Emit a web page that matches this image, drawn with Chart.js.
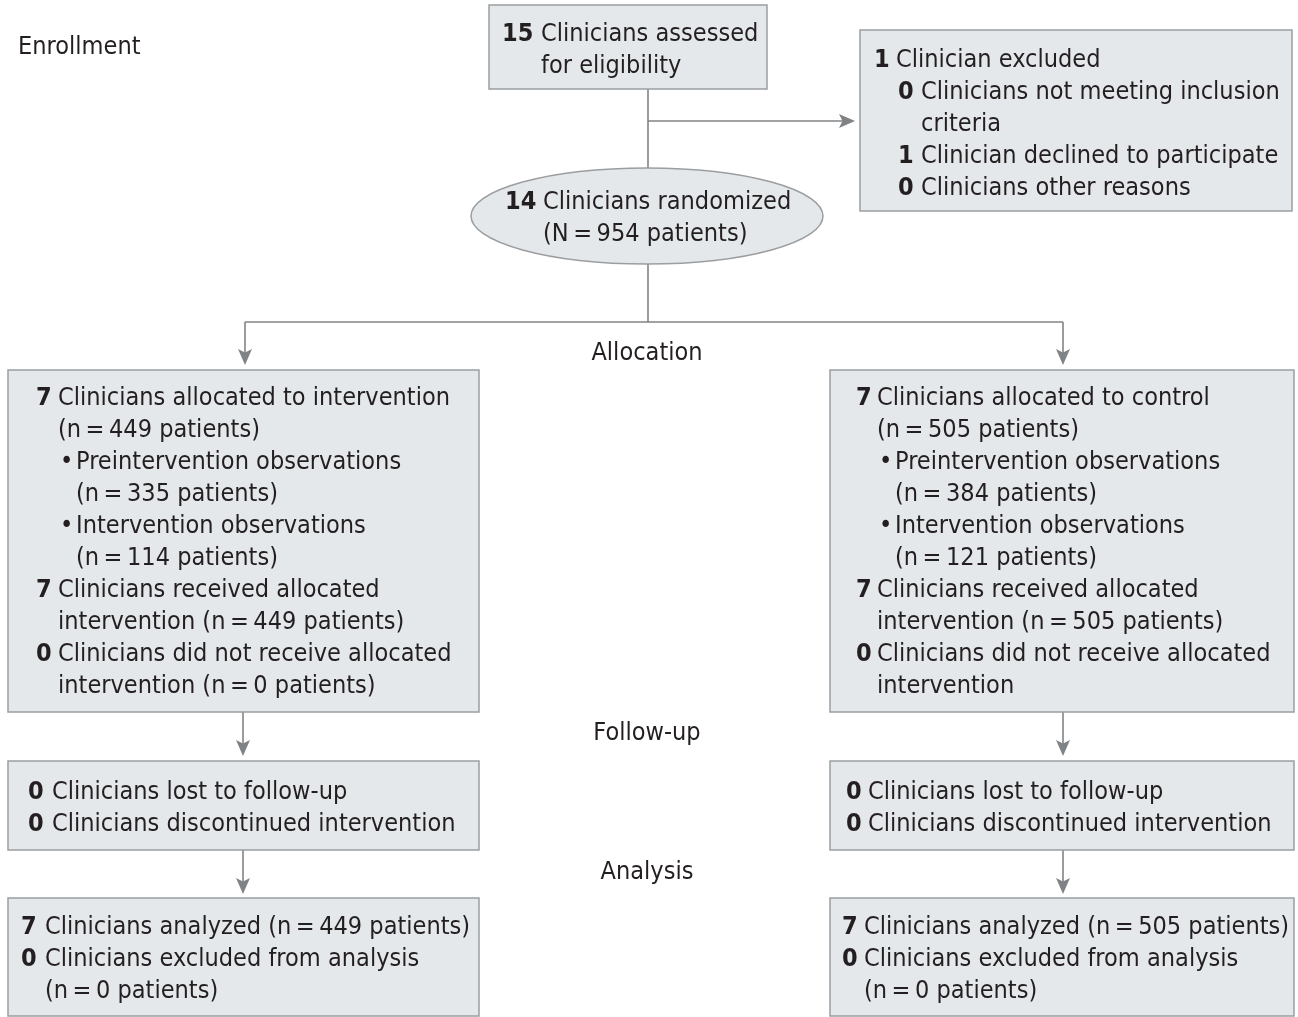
<!DOCTYPE html>
<html>
<head>
<meta charset="utf-8">
<script src="https://cdn.jsdelivr.net/npm/chart.js@4.4.1/dist/chart.umd.min.js"></script>
<style>
  body { margin: 0; background: #fff; }
  #wrap { width: 1298px; height: 1017px; }
</style>
</head>
<body>
<div id="wrap"><canvas id="myChart" width="1298" height="1017"></canvas></div>
<script>

// stage names down the middle of the flow
var stageLabels = ['Enrollment', 'Allocation', 'Follow-up', 'Analysis'];

// each line: [count, text, level]  (level 1 = indented sub item, '•' = bullet)
var enrollLines = [
  ['15', 'Clinicians assessed', 0],
  ['', 'for eligibility', 0]
];
var excludedLines = [
  ['1', 'Clinician excluded', 0],
  ['0', 'Clinicians not meeting inclusion', 1],
  ['', 'criteria', 1],
  ['1', 'Clinician declined to participate', 1],
  ['0', 'Clinicians other reasons', 1]
];
var randomizedLines = [
  ['14', 'Clinicians randomized', 0],
  ['', '(N\u2009=\u2009954 patients)', 0]
];
var interventionLines = [
  ['7', 'Clinicians allocated to intervention', 0],
  ['', '(n\u2009=\u2009449 patients)', 0],
  ['•', 'Preintervention observations', 1],
  ['', '(n\u2009=\u2009335 patients)', 1],
  ['•', 'Intervention observations', 1],
  ['', '(n\u2009=\u2009114 patients)', 1],
  ['7', 'Clinicians received allocated', 0],
  ['', 'intervention (n\u2009=\u2009449 patients)', 0],
  ['0', 'Clinicians did not receive allocated', 0],
  ['', 'intervention (n\u2009=\u20090 patients)', 0]
];
var controlLines = [
  ['7', 'Clinicians allocated to control', 0],
  ['', '(n\u2009=\u2009505 patients)', 0],
  ['•', 'Preintervention observations', 1],
  ['', '(n\u2009=\u2009384 patients)', 1],
  ['•', 'Intervention observations', 1],
  ['', '(n\u2009=\u2009121 patients)', 1],
  ['7', 'Clinicians received allocated', 0],
  ['', 'intervention (n\u2009=\u2009505 patients)', 0],
  ['0', 'Clinicians did not receive allocated', 0],
  ['', 'intervention', 0]
];
var followLeftLines = [
  ['0', 'Clinicians lost to follow-up', 0],
  ['0', 'Clinicians discontinued intervention', 0]
];
var followRightLines = [
  ['0', 'Clinicians lost to follow-up', 0],
  ['0', 'Clinicians discontinued intervention', 0]
];
var analysisLeftLines = [
  ['7', 'Clinicians analyzed (n\u2009=\u2009449 patients)', 0],
  ['0', 'Clinicians excluded from analysis', 0],
  ['', '(n\u2009=\u20090 patients)', 0]
];
var analysisRightLines = [
  ['7', 'Clinicians analyzed (n\u2009=\u2009505 patients)', 0],
  ['0', 'Clinicians excluded from analysis', 0],
  ['', '(n\u2009=\u20090 patients)', 0]
];

// placement of the boxes, in axis units
var boxes = [
  { lines: enrollLines, x0: 489, y0: 5, x1: 767, y1: 89, numX: 502, textX: 541, top: 32 },
  { lines: excludedLines, x0: 860, y0: 30, x1: 1292, y1: 211, numX: 874, textX: 896, subNum: 898, subText: 921, top: 58 },
  { lines: randomizedLines, ellipse: true, cx: 647, cy: 216, rx: 176, ry: 48, numX: 505, textX: 543, top: 200 },
  { lines: interventionLines, x0: 8, y0: 370, x1: 479, y1: 712, numX: 36, textX: 58, subNum: 60, subText: 76, top: 396 },
  { lines: controlLines, x0: 830, y0: 370, x1: 1294, y1: 712, numX: 856, textX: 877, subNum: 879, subText: 895, top: 396 },
  { lines: followLeftLines, x0: 8, y0: 761, x1: 479, y1: 850, numX: 28, textX: 52, top: 790 },
  { lines: followRightLines, x0: 830, y0: 761, x1: 1294, y1: 850, numX: 846, textX: 868, top: 790 },
  { lines: analysisLeftLines, x0: 8, y0: 898, x1: 479, y1: 1016, numX: 21, textX: 45, top: 925 },
  { lines: analysisRightLines, x0: 830, y0: 898, x1: 1294, y1: 1016, numX: 842, textX: 864, top: 925 }
];

// connector paths, last point gets an arrow head when arrow is true
var connectors = [
  { pts: [[648, 89], [648, 168]], arrow: false },
  { pts: [[648, 121], [855, 121]], arrow: true },
  { pts: [[648, 264], [648, 322]], arrow: false },
  { pts: [[245, 322], [1063, 322]], arrow: false },
  { pts: [[245, 322], [245, 365]], arrow: true },
  { pts: [[1063, 322], [1063, 365]], arrow: true },
  { pts: [[243, 712], [243, 756]], arrow: true },
  { pts: [[1063, 712], [1063, 756]], arrow: true },
  { pts: [[243, 850], [243, 894]], arrow: true },
  { pts: [[1063, 850], [1063, 894]], arrow: true }
];

var stagePos = [[18, 45, 'left'], [647, 351, 'center'], [647, 731, 'center'], [647, 870, 'center']];

var FONT = '"Liberation Sans Narrow", "DejaVu Sans Condensed", "Open Sans", sans-serif';
var FONT_SIZE = 25;
var LINE_H = 32;
var TEXT_COLOR = '#231f20';
var BOX_FILL = '#e5e8eb';
var BOX_EDGE = '#9b9ea1';
var LINE_COLOR = '#808386';

var flowPlugin = {
  id: 'flow',
  afterDraw: function(chart) {
    var ctx = chart.ctx;
    var xs = chart.scales.x;
    var ys = chart.scales.y;
    function px(v) { return xs.getPixelForValue(v); }
    function py(v) { return ys.getPixelForValue(v); }

    // horizontal squeeze so the installed font matches the narrow original
    ctx.font = FONT_SIZE + 'px ' + FONT;
    var sq = 392 / ctx.measureText('Clinicians allocated to intervention').width;

    function text(str, x, y, bold, align) {
      ctx.save();
      ctx.font = (bold ? 'bold ' : '') + FONT_SIZE + 'px ' + FONT;
      ctx.fillStyle = TEXT_COLOR;
      ctx.textBaseline = 'alphabetic';
      var w = ctx.measureText(str).width * sq;
      var left = x;
      if (align === 'center') left = x - w / 2;
      ctx.translate(left, y + 9);
      ctx.scale(sq, 1);
      ctx.fillText(str, 0, 0);
      ctx.restore();
    }

    // connectors
    ctx.save();
    ctx.strokeStyle = LINE_COLOR;
    ctx.fillStyle = LINE_COLOR;
    ctx.lineWidth = 1.6;
    connectors.forEach(function(c) {
      var p = c.pts.map(function(q) { return [px(q[0]), py(q[1])]; });
      var a = p[p.length - 2], b = p[p.length - 1];
      var dx = Math.cos(Math.atan2(b[1] - a[1], b[0] - a[0]));
      var dy = Math.sin(Math.atan2(b[1] - a[1], b[0] - a[0]));
      var end = c.arrow ? [b[0] - dx * 10, b[1] - dy * 10] : b;
      ctx.beginPath();
      ctx.moveTo(p[0][0], p[0][1]);
      for (var i = 1; i < p.length - 1; i++) ctx.lineTo(p[i][0], p[i][1]);
      ctx.lineTo(end[0], end[1]);
      ctx.stroke();
      if (c.arrow) {
        // notched head
        ctx.beginPath();
        ctx.moveTo(b[0], b[1]);
        ctx.lineTo(b[0] - dx * 16 - dy * 7, b[1] - dy * 16 + dx * 7);
        ctx.lineTo(b[0] - dx * 12.5, b[1] - dy * 12.5);
        ctx.lineTo(b[0] - dx * 16 + dy * 7, b[1] - dy * 16 - dx * 7);
        ctx.closePath();
        ctx.fill();
      }
    });
    ctx.restore();

    // boxes
    boxes.forEach(function(b) {
      ctx.save();
      ctx.fillStyle = BOX_FILL;
      ctx.strokeStyle = BOX_EDGE;
      ctx.lineWidth = 1.5;
      ctx.beginPath();
      if (b.ellipse) {
        ctx.ellipse(px(b.cx), py(b.cy), px(b.cx + b.rx) - px(b.cx), py(b.cy + b.ry) - py(b.cy), 0, 0, Math.PI * 2);
      } else {
        ctx.rect(px(b.x0), py(b.y0), px(b.x1) - px(b.x0), py(b.y1) - py(b.y0));
      }
      ctx.fill();
      ctx.stroke();
      ctx.restore();

      b.lines.forEach(function(ln, i) {
        var y = py(b.top + i * LINE_H);
        var nx = ln[2] ? b.subNum : b.numX;
        var tx = ln[2] ? b.subText : b.textX;
        if (ln[0]) text(ln[0], px(nx), y, ln[0] !== '•');
        text(ln[1], px(tx), y, false);
      });
    });

    // stage labels
    stageLabels.forEach(function(s, i) {
      text(s, px(stagePos[i][0]), py(stagePos[i][1]), false, stagePos[i][2]);
    });
  }
};

function init() {
  var ctx = document.getElementById('myChart').getContext('2d');
  new Chart(ctx, {
    type: 'scatter',
    data: { datasets: [] },
    options: {
      responsive: false,
      animation: false,
      devicePixelRatio: 1,
      layout: { padding: 0 },
      plugins: { legend: { display: false }, tooltip: { enabled: false } },
      scales: {
        x: { type: 'linear', min: 0, max: 1298, display: false },
        y: { type: 'linear', min: 0, max: 1017, reverse: true, display: false }
      }
    },
    plugins: [flowPlugin]
  });
}

init();
</script>
</body>
</html>
